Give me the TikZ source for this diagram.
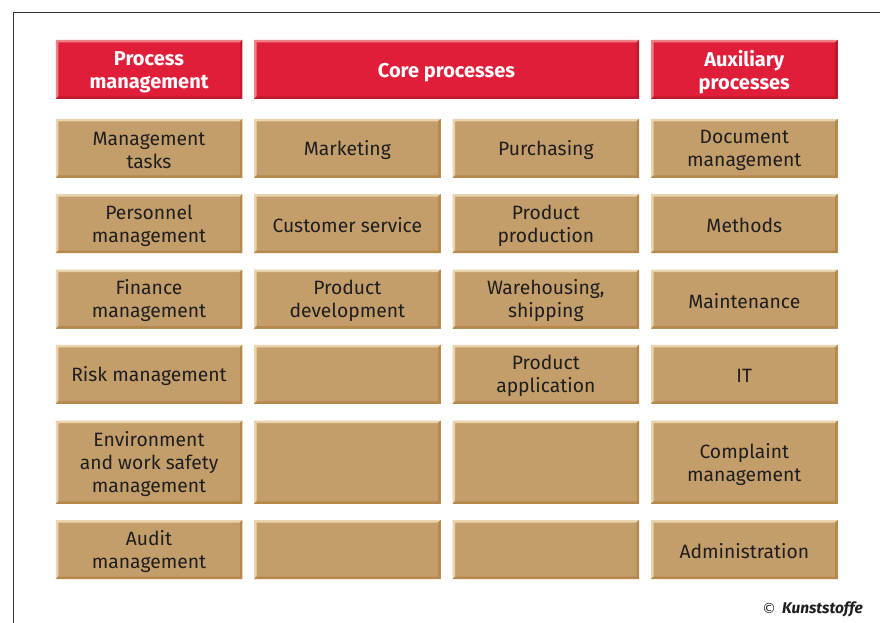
\documentclass[tikz,border=0pt]{standalone}
\usepackage{fontspec}
\setmainfont{Fira Sans}
\newfontfamily\symfont{DejaVu Sans}
\begin{document}
\begin{tikzpicture}[x=1pt,y=-1pt,
  bevel/.style n args={3}{fill=#1, path picture={
    \fill[#2] (path picture bounding box.north west) -- (path picture bounding box.north east)
      -- ([shift={(-2.5pt,-2.5pt)}]path picture bounding box.north east)
      -- ([shift={(2.5pt,-2.5pt)}]path picture bounding box.north west)
      -- ([shift={(2.5pt,2.5pt)}]path picture bounding box.south west)
      -- (path picture bounding box.south west) -- cycle;
    \fill[#3] (path picture bounding box.south east) -- (path picture bounding box.south west)
      -- ([shift={(2.5pt,2.5pt)}]path picture bounding box.south west)
      -- ([shift={(-2.5pt,2.5pt)}]path picture bounding box.south east)
      -- ([shift={(-2.5pt,-2.5pt)}]path picture bounding box.north east)
      -- (path picture bounding box.north east) -- cycle;
  }},
  cell/.style={bevel={tanfill}{tanlight}{tandark}, inner sep=0pt,
    minimum width=186.5pt, minimum height=59pt},
  head/.style={bevel={redfill}{redlight}{reddark}, inner sep=0pt,
    minimum width=186.5pt, minimum height=59pt},
  tall/.style={minimum height=83.3pt},
  celltext/.style={align=center, inner sep=0pt, text=inkdark, yshift=-2pt,
    font=\fontsize{19.3}{23}\selectfont},
  headtext/.style={align=center, inner sep=0pt, text=white, yshift=-2.8pt,
    font=\fontsize{20}{22.5}\selectfont\bfseries}
]
\definecolor{tanfill}{HTML}{C49E6A}
\definecolor{tanlight}{HTML}{E9D4AE}
\definecolor{tandark}{HTML}{B6884C}
\definecolor{redfill}{HTML}{E01E3A}
\definecolor{redlight}{HTML}{EE8088}
\definecolor{reddark}{HTML}{BF182F}
\definecolor{inkdark}{HTML}{1E1E1E}
\definecolor{framegray}{HTML}{333333}

\useasboundingbox (0,0) rectangle (880,623);
\fill[white] (0,0) rectangle (880,623);

% open frame: top and left rules
\coordinate (frameTop) at (880,12.3);
\coordinate (frameCorner) at (13.5,12.3);
\coordinate (frameBottom) at (13.5,623);
\draw[framegray, line width=1.2pt] (frameTop) -- (frameCorner) -- (frameBottom);

% header row
\node[head] (hProc) at (149,69.5) {};
\node[head, minimum width=385pt] (hCore) at (446.5,69.5) {};
\node[head] (hAux) at (744.3,69.5) {};
\node[headtext] (hProcT) at (hProc.center) {Process\\management};
\node[headtext] (hCoreT) at (hCore.center) {Core processes};
\node[headtext] (hAuxT) at (hAux.center) {Auxiliary\\processes};

% grid of cells
\foreach \nm/\x in {p/149, c/347.3, d/545.8, a/744.3} {
  \node[cell] (\nm1) at (\x,148.3) {};
  \node[cell] (\nm2) at (\x,223.5) {};
  \node[cell] (\nm3) at (\x,299) {};
  \node[cell] (\nm4) at (\x,374.3) {};
  \node[cell, tall] (\nm5) at (\x,462.2) {};
  \node[cell] (\nm6) at (\x,549.5) {};
}

% process management
\node[celltext] (p1t) at (p1.center) {Management\\tasks};
\node[celltext] (p2t) at (p2.center) {Personnel\\management};
\node[celltext] (p3t) at (p3.center) {Finance\\management};
\node[celltext] (p4t) at (p4.center) {Risk management};
\node[celltext] (p5t) at (p5.center) {Environment\\and work safety\\management};
\node[celltext] (p6t) at (p6.center) {Audit\\management};

% core processes
\node[celltext] (c1t) at (c1.center) {Marketing};
\node[celltext] (c2t) at (c2.center) {Customer service};
\node[celltext] (c3t) at (c3.center) {Product\\development};
\node[celltext] (d1t) at (d1.center) {Purchasing};
\node[celltext] (d2t) at (d2.center) {Product\\production};
\node[celltext] (d3t) at (d3.center) {Warehousing,\\shipping};
\node[celltext] (d4t) at (d4.center) {Product\\application};

% auxiliary processes
\node[celltext] (a1t) at (a1.center) {Document\\management};
\node[celltext] (a2t) at (a2.center) {Methods};
\node[celltext] (a3t) at (a3.center) {Maintenance};
\node[celltext] (a4t) at (a4.center) {IT};
\node[celltext] (a5t) at (a5.center) {Complaint\\management};
\node[celltext] (a6t) at (a6.center) {Administration};

% credit line
\node[anchor=east, inner sep=0pt, text=inkdark, font=\fontsize{15.5}{17}\selectfont]
  (credit) at (863,609) {{\symfont\fontsize{14}{16}\selectfont\char"00A9}\hspace{6pt}\textbf{\textit{Kunststoffe}}};
\end{tikzpicture}
\end{document}
